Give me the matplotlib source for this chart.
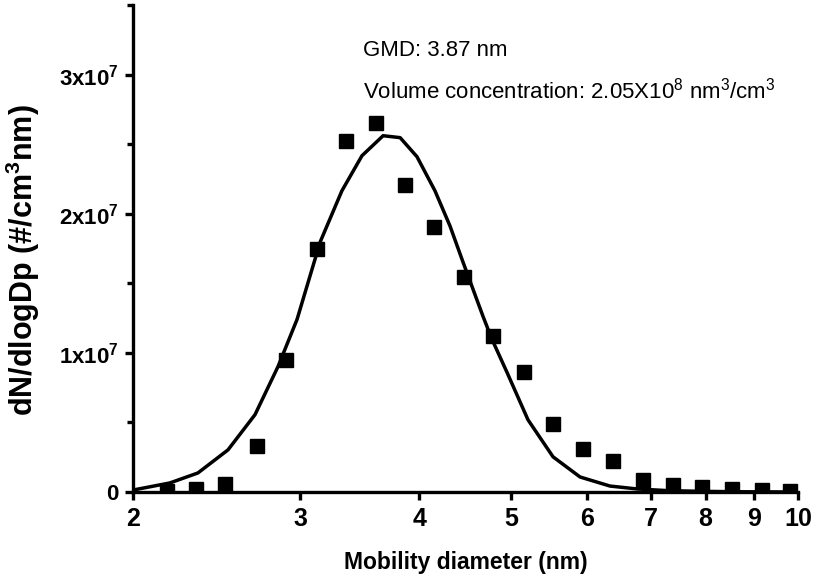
import matplotlib
matplotlib.use("Agg")
import matplotlib.pyplot as plt
from matplotlib.ticker import FixedLocator, NullLocator, MultipleLocator

plt.rcParams["font.family"] = ["Liberation Sans", "DejaVu Sans"]
plt.rcParams["mathtext.default"] = "regular"

# measured size distribution (squares)
diam = [2.17, 2.33, 2.50, 2.70, 2.90, 3.12, 3.35, 3.60, 3.86, 4.15, 4.46,
        4.78, 5.16, 5.53, 5.95, 6.40, 6.88, 7.40, 7.93, 8.53, 9.17, 9.82]
conc = [0.01e7, 0.02e7, 0.06e7, 0.33e7, 0.95e7, 1.75e7, 2.52e7, 2.655e7,
        2.21e7, 1.905e7, 1.545e7, 1.12e7, 0.865e7, 0.49e7, 0.31e7, 0.225e7,
        0.087e7, 0.05e7, 0.036e7, 0.025e7, 0.015e7, 0.01e7]

# lognormal fit (line)
fit_diam = [2.0, 2.187, 2.341, 2.518, 2.688, 2.842, 2.976, 3.147, 3.317, 3.482,
            3.665, 3.819, 3.978, 4.155, 4.309, 4.447, 4.667, 4.770, 4.947,
            5.204, 5.529, 5.903, 6.346, 6.776, 7.3, 7.9, 8.6, 9.3, 10.0]
fit_conc = [0.014e7, 0.065e7, 0.137e7, 0.303e7, 0.556e7, 0.902e7, 1.241e7,
            1.797e7, 2.165e7, 2.417e7, 2.561e7, 2.547e7, 2.410e7, 2.165e7,
            1.912e7, 1.652e7, 1.263e7, 1.097e7, 0.859e7, 0.519e7, 0.253e7,
            0.108e7, 0.043e7, 0.022e7, 0.01e7, 0.005e7, 0.002e7, 0.001e7, 0.0]

x_ticks = [2, 3, 4, 5, 6, 7, 8, 9, 10]
y_ticks = [0, 1e7, 2e7, 3e7]
y_labels = ["0", "1x10$^7$", "2x10$^7$", "3x10$^7$"]

fig = plt.figure(figsize=(8.15, 5.82), dpi=100)
ax = fig.add_axes([0.163, 0.1546, 0.816, 0.8367])

ax.plot(fit_diam, fit_conc, color="black", linewidth=2.5)
ax.plot(diam, conc, linestyle="none", marker="s", markersize=10.5,
        color="black")

ax.set_xscale("log")
ax.set_xlim(2, 10)
ax.set_ylim(0, 3.5e7)

ax.xaxis.set_major_locator(FixedLocator(x_ticks))
ax.xaxis.set_minor_locator(NullLocator())
ax.set_xticklabels([str(t) for t in x_ticks], fontsize=18, fontweight="bold")
ax.set_yticks(y_ticks)
ax.set_yticklabels(y_labels, fontsize=16, fontweight="bold")
ax.yaxis.set_minor_locator(MultipleLocator(0.5e7))

for side in ["top", "right"]:
    ax.spines[side].set_visible(False)
for side in ["left", "bottom"]:
    ax.spines[side].set_linewidth(2.4)
ax.tick_params(which="major", direction="out", length=6, width=2.4)
ax.tick_params(axis="x", which="major", pad=5)
ax.tick_params(axis="y", which="major", pad=4)
ax.tick_params(which="minor", direction="out", length=4, width=2.4)

ax.set_xlabel("Mobility diameter (nm)", fontsize=16.5, fontweight="bold")
ax.xaxis.set_label_coords(0.50, -0.122)
ax.set_ylabel("dN/dlogDp (#/cm$^3$nm)", fontsize=22, fontweight="bold")
ax.yaxis.set_label_coords(-0.137, 0.476)

ax.text(0.346, 0.907, "GMD: 3.87 nm", transform=ax.transAxes, fontsize=16,
        va="center", ha="left")
ax.text(0.346, 0.825, "Volume concentration: 2.05X10$^8$ nm$^3$/cm$^3$",
        transform=ax.transAxes, fontsize=16, va="center", ha="left")

fig.savefig("out.png", dpi=100)
